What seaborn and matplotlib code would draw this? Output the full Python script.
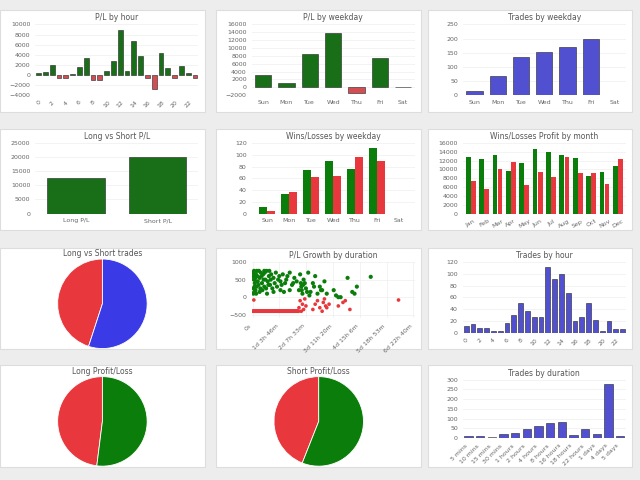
import numpy as np
import matplotlib
matplotlib.use("Agg")
import matplotlib.pyplot as plt
import seaborn as sns
from matplotlib.patches import FancyBboxPatch

GREEN = "#0a7d0a"
RED = "#e8383d"
BLUE = "#3a3ae6"

hours = list(range(24))
pl_hour = [300, 600, 2000, -600, -600, 200, 1600, 3400, -1000, -1000, 800, 2700,
           9000, 700, 6700, 3700, -700, -2800, 4300, 1400, -600, 1800, 300, -700]
weekdays = ["Sun", "Mon", "Tue", "Wed", "Thu", "Fri", "Sat"]
pl_weekday = [3200, 1100, 8400, 13800, -1500, 7400, 0]
trades_weekday = [15, 68, 135, 153, 170, 200, 0]
ls_labels = ["Long P/L", "Short P/L"]
ls_pl = [12500, 20000]
wins_weekday = [12, 34, 74, 90, 76, 112, 0]
losses_weekday = [5, 36, 62, 64, 96, 90, 0]
months = ["Jan", "Feb", "Mar", "Apr", "May", "Jun", "Jul", "Aug", "Sep", "Oct", "Nov", "Dec"]
month_wins = [12800, 12300, 13200, 9700, 11500, 14700, 14000, 13200, 12600, 8600, 9400, 10800]
month_losses = [7500, 5600, 10000, 11800, 6400, 9400, 8200, 12900, 9300, 9200, 6700, 12400]
ls_trades = [45, 55]  # short(red), long(blue)
trades_hour = [12, 15, 8, 8, 2, 2, 16, 30, 50, 37, 27, 26, 112, 92, 100, 68, 20, 26, 50, 21, 3, 20, 6, 7]
dur_labels = ["5 mins", "10 mins", "15 mins", "30 mins", "1 hours", "2 hours", "4 hours",
              "8 hours", "16 hours", "18 hours", "22 hours", "1 days", "4 days", "5 days"]
dur_trades = [12, 10, 5, 20, 28, 45, 62, 78, 82, 15, 48, 20, 278, 14]
long_pl = [48, 52]
short_pl = [44, 56]

# scatter: duration (days) vs P/L
win_x = [0.02, 0.05, 0.08, 0.1, 0.12, 0.15, 0.18, 0.2, 0.25, 0.3, 0.35, 0.4, 0.45, 0.5, 0.55,
         0.6, 0.65, 0.7, 0.75, 0.8, 0.9, 1.0, 1.05, 1.1, 1.2, 1.3, 1.4, 1.5, 1.6, 1.7, 1.8,
         1.9, 2.0, 2.05, 2.1, 2.15, 2.2, 2.3, 2.4, 2.5, 2.6, 2.7, 2.8, 2.9, 3.0, 3.1, 3.2,
         3.5, 3.6, 3.7, 3.8, 4.1, 4.3, 4.4, 4.5, 5.1, 0.03, 0.07, 0.3, 0.5, 0.9, 1.2, 1.6,
         2.25, 2.45, 2.65, 2.95, 0.15, 0.42, 0.62, 0.85, 1.35, 1.75,
         0.01, 0.04, 0.06, 0.09, 0.11, 0.14, 0.17, 0.22, 0.27, 0.33, 0.38, 0.47, 0.52,
         0.58, 0.68, 0.72, 0.78, 0.95, 1.15, 1.25, 1.45, 2.08, 2.12, 2.18, 2.35]
win_y = [700, 500, 300, 650, 200, 450, 750, 600, 350, 550, 700, 400, 650, 300, 500,
         750, 450, 600, 350, 650, 550, 700, 300, 500, 450, 650, 400, 600, 700, 350, 550,
         450, 200, 650, 300, 100, 500, 250, 700, 150, 400, 600, 100, 300, 200, 450, 100,
         200, 50, 0, 0, 550, 150, 100, 300, 580, 100, 150, 150, 750, 150, 200, 200,
         400, 50, 300, 200, 100, 200, 100, 250, 150, 400,
         600, 250, 750, 400, 550, 650, 300, 450, 750, 250, 600, 500, 700,
         250, 350, 750, 500, 400, 600, 350, 500, 400, 200, 350, 150]
loss_x = list(np.arange(0.0, 2.0, 0.02)) + [2.0, 2.05, 2.1, 2.15, 2.2, 2.25, 2.3, 2.6, 2.7,
         2.8, 2.9, 3.0, 3.05, 3.1, 3.15, 3.2, 3.3, 3.7, 3.9, 4.0, 4.2, 0.05, 6.3]
loss_y = [-400] * 100 + [-300, -100, -400, -200, -350, -50, -250, -350, -200, -100, -300,
          -400, -150, -50, -250, -300, -200, -250, -150, -100, -350, -80, -80]


def panel(fig, rect):
    fig.patches.append(FancyBboxPatch((rect[0], rect[1]), rect[2], rect[3],
                                      boxstyle="square,pad=0", transform=fig.transFigure,
                                      facecolor="white", edgecolor="#dddddd", lw=0.8, zorder=-5))


def style(ax, title):
    ax.set_title(title, fontsize=5.5, color="#555555", pad=3)
    ax.tick_params(labelsize=4.5, colors="#666666", length=0)
    for s in ax.spines.values():
        s.set_visible(False)
    ax.set_facecolor("white")
    ax.grid(axis="y", color="#eeeeee", lw=0.5)
    ax.set_axisbelow(True)
    ax.set_xlabel("")
    ax.set_ylabel("")


def bars(ax, x, y, colors):
    sns.barplot(x=x, y=y, ax=ax, palette=colors, hue=x, legend=False,
                edgecolor="#222222", linewidth=0.4, width=0.7)


fig = plt.figure(figsize=(6.4, 4.8), dpi=100)
fig.patch.set_facecolor("#ededed")

cols = [0.0, 0.338, 0.668]
rows = [0.767, 0.52, 0.272, 0.027]
pw, ph = 0.32, 0.212
for r in rows:
    for c in cols:
        panel(fig, [c, r, pw, ph])


def axes(ci, ri, l=0.055, b=0.03, t=0.03):
    x, y = cols[ci], rows[ri]
    return fig.add_axes([x + l, y + b, pw - l - 0.01, ph - b - t])


def pie(ci, ri, vals, colors, title):
    ax = fig.add_axes([cols[ci] + 0.02, rows[ri] + 0.0, pw - 0.04, ph - 0.005])
    ax.pie(vals, colors=colors, startangle=90, counterclock=True, radius=1.0,
           wedgeprops=dict(edgecolor="white", linewidth=0.6))
    ax.set_ylim(-1.02, 1.2)
    ax.text(0, 1.12, title, fontsize=5.5, color="#555555", ha="center", va="center")


# row 1
ax = axes(0, 0, b=0.035)
hl = [str(h) for h in hours]
bars(ax, hl, pl_hour, [GREEN if v >= 0 else RED for v in pl_hour])
ax.set_xticks(range(0, 24, 2))
ax.set_xticklabels([str(h) for h in range(0, 24, 2)], rotation=45)
ax.set_ylim(-4000, 10000)
ax.set_yticks(range(-4000, 10001, 2000))
style(ax, "P/L by hour")

ax = axes(1, 0, b=0.035)
bars(ax, weekdays, pl_weekday, [GREEN if v >= 0 else RED for v in pl_weekday])
ax.set_ylim(-2000, 16000)
ax.set_yticks(range(-2000, 16001, 2000))
style(ax, "P/L by weekday")

ax = axes(2, 0, b=0.035)
bars(ax, weekdays, trades_weekday, [BLUE] * 7)
ax.set_ylim(0, 250)
ax.set_yticks(range(0, 251, 50))
style(ax, "Trades by weekday")

# row 2
ax = axes(0, 1, b=0.035)
bars(ax, ls_labels, ls_pl, [GREEN, GREEN])
ax.set_ylim(0, 25000)
style(ax, "Long vs Short P/L")

ax = axes(1, 1, b=0.035)
idx = np.arange(7)
ax.bar(idx - 0.19, wins_weekday, 0.36, color=GREEN)
ax.bar(idx + 0.19, losses_weekday, 0.36, color=RED)
ax.set_xticks(idx)
ax.set_xticklabels(weekdays)
ax.set_ylim(0, 120)
ax.set_yticks(range(0, 121, 20))
style(ax, "Wins/Losses by weekday")

ax = axes(2, 1, b=0.035)
idx = np.arange(12)
ax.bar(idx - 0.19, month_wins, 0.36, color=GREEN)
ax.bar(idx + 0.19, month_losses, 0.36, color=RED)
ax.set_xticks(idx)
ax.set_xticklabels(months, rotation=30)
ax.set_xlim(-0.6, 11.6)
ax.set_ylim(0, 16000)
ax.set_yticks(range(0, 16001, 2000))
style(ax, "Wins/Losses Profit by month")

# row 3
pie(0, 2, ls_trades, [RED, BLUE], "Long vs Short trades")

ax = axes(1, 2, b=0.065)
sns.scatterplot(x=loss_x, y=loss_y, ax=ax, color=RED, s=7, edgecolor="none")
sns.scatterplot(x=win_x, y=win_y, ax=ax, color=GREEN, s=9, edgecolor="none")
ticks = [i * (1 + 3 / 24 + 46 / 1440) for i in range(7)]
ax.set_xticks(ticks)
ax.set_xticklabels(["0s", "1d 3h 46m", "2d 7h 33m", "3d 11h 20m", "4d 15h 6m",
                    "5d 18h 53m", "6d 22h 40m"], rotation=45, ha="right")
ax.set_xlim(-0.05, 7.0)
ax.set_ylim(-600, 1000)
ax.set_yticks([-500, 0, 500, 1000])
style(ax, "P/L Growth by duration")
ax.grid(axis="x", color="#eeeeee", lw=0.5)

ax = axes(2, 2, b=0.035)
bars(ax, hl, trades_hour, [BLUE] * 24)
ax.set_xticks(range(0, 24, 2))
ax.set_xticklabels([str(h) for h in range(0, 24, 2)], rotation=45)
ax.set_ylim(0, 120)
ax.set_yticks(range(0, 121, 20))
style(ax, "Trades by hour")

# row 4
pie(0, 3, long_pl, [RED, GREEN], "Long Profit/Loss")
pie(1, 3, short_pl, [RED, GREEN], "Short Profit/Loss")

ax = axes(2, 3, b=0.06)
dcol = [BLUE] * 14
dcol[2] = "#c8c8f0"
bars(ax, dur_labels, dur_trades, dcol)
ax.set_xticks(range(14))
ax.set_xticklabels(dur_labels, rotation=45, ha="right")
ax.set_ylim(0, 300)
ax.set_yticks(range(0, 301, 50))
style(ax, "Trades by duration")

fig.savefig("out.png", dpi=100, facecolor=fig.get_facecolor())
